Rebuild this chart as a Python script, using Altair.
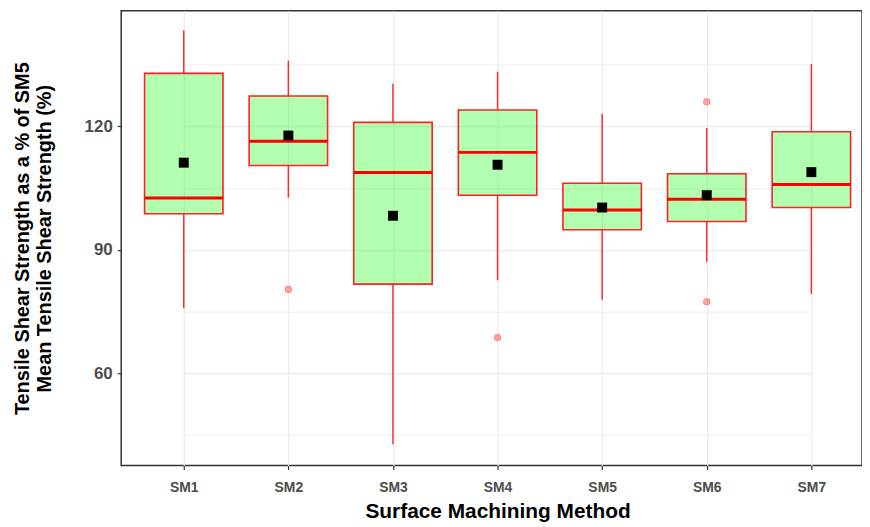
import altair as alt
import pandas as pd

categories = ["SM1", "SM2", "SM3", "SM4", "SM5", "SM6", "SM7"]
whisker_low = [75.8, 102.7, 42.8, 82.6, 77.9, 87.1, 79.3]
q1 = [98.8, 110.5, 81.7, 103.3, 94.9, 96.9, 100.3]
median = [102.6, 116.4, 108.8, 113.7, 99.7, 102.3, 105.9]
q3 = [132.9, 127.4, 121.0, 124.0, 106.2, 108.5, 118.7]
whisker_high = [143.3, 136.0, 130.4, 133.3, 123.0, 119.6, 135.2]
means = [111.2, 117.8, 98.3, 110.7, 100.3, 103.3, 108.9]
outlier_cats = ["SM2", "SM4", "SM6", "SM6"]
outlier_vals = [80.4, 68.7, 126.0, 77.4]
y_ticks = [45, 60, 75, 90, 105, 120, 135]

stats = pd.DataFrame({
    "method": categories,
    "lo": whisker_low,
    "q1": q1,
    "med": median,
    "q3": q3,
    "hi": whisker_high,
    "mean": means,
})
outliers = pd.DataFrame({"method": outlier_cats, "value": outlier_vals})

FONT = "Liberation Sans"
major = "datum.value % 30 == 0"

x_enc = alt.X(
    "method:N",
    sort=categories,
    scale=alt.Scale(type="point", range=[63, 695], padding=0),
    axis=alt.Axis(
        title="Surface Machining Method",
        titleFont=FONT, titleFontSize=21, titleFontWeight="bold", titleColor="#000000",
        titlePadding=6, titleX=379,
        labelFont=FONT, labelFontSize=14, labelFontWeight="bold", labelColor="#4d4d4d",
        labelPadding=11, labelAngle=0,
        tickSize=4, tickColor="#333333", tickWidth=1.2,
        grid=True, gridColor="#ebebeb", gridWidth=1.2,
        domain=False,
    ),
)

y_scale = alt.Scale(domain=[37.6, 148.1], nice=False, zero=False)
y_axis = alt.Axis(
    title=["Tensile Shear Strength as a % of  SM5", "Mean  Tensile Shear Strength (%)"],
    titleFont=FONT, titleFontSize=20, titleFontWeight="bold", titleColor="#000000",
    titleAngle=270, titleAlign="center", titleBaseline="middle",
    titleX=-99, titleY=229, titleLineHeight=22,
    values=y_ticks,
    labelExpr="datum.value % 30 == 0 ? datum.label : ''",
    labelFont=FONT, labelFontSize=17, labelFontWeight="bold", labelColor="#4d4d4d",
    labelPadding=5,
    tickSize=4, tickColor="#333333",
    tickOpacity={"condition": {"test": major, "value": 1}, "value": 0},
    tickWidth=1.2,
    grid=True, gridColor="#ebebeb",
    gridWidth={"condition": {"test": major, "value": 1.4}, "value": 0.9},
    domain=False,
)

base = alt.Chart(stats)

whisk_up = base.mark_rule(color="#ff2a2a", strokeWidth=1.5).encode(
    x=x_enc,
    y=alt.Y("q3:Q", scale=y_scale, axis=y_axis),
    y2="hi:Q",
)
whisk_down = base.mark_rule(color="#ff2a2a", strokeWidth=1.5).encode(
    x=x_enc,
    y=alt.Y("lo:Q", scale=y_scale, axis=y_axis),
    y2="q1:Q",
)
boxes = base.mark_bar(
    size=79, fill="#00ff00", fillOpacity=0.3, stroke="#ff2020", strokeWidth=1.6
).encode(
    x=x_enc,
    y=alt.Y("q1:Q", scale=y_scale, axis=y_axis),
    y2="q3:Q",
)
medians = base.mark_tick(size=79, thickness=3, color="#ff0000", opacity=1).encode(
    x=x_enc,
    y=alt.Y("med:Q", scale=y_scale, axis=y_axis),
)
outs = alt.Chart(outliers).mark_point(
    size=45, filled=True, fill="#ff0000", fillOpacity=0.35,
    stroke="#ff3333", strokeOpacity=0.45, strokeWidth=1, shape="circle"
).encode(
    x=x_enc,
    y=alt.Y("value:Q", scale=y_scale, axis=y_axis),
)
mean_pts = base.mark_square(size=100, color="#000000", opacity=1).encode(
    x=x_enc,
    y=alt.Y("mean:Q", scale=y_scale, axis=y_axis),
)

chart = alt.layer(whisk_up, whisk_down, boxes, medians, outs, mean_pts).properties(
    width=746,
    height=458,
    autosize=alt.AutoSizeParams(type="none"),
    padding={"left": 114, "top": 1, "right": 0, "bottom": 58},
    background="#ffffff",
).configure_view(
    stroke="#333333", strokeWidth=1.5
)

chart.save("out.html", embed_options={"renderer": "svg", "actions": False})
